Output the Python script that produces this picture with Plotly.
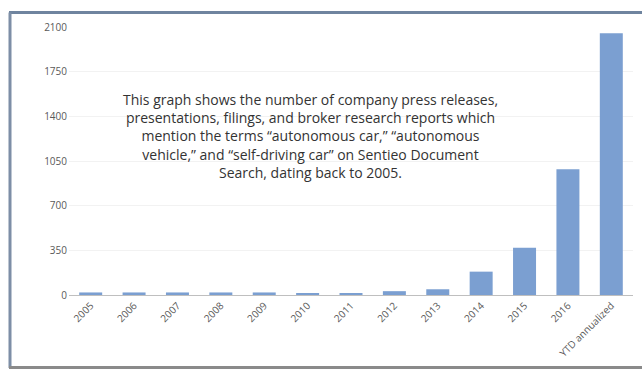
import plotly.graph_objects as go

categories = ["2005", "2006", "2007", "2008", "2009", "2010", "2011", "2012",
              "2013", "2014", "2015", "2016", "YTD annualized"]
mentions = [20, 20, 20, 20, 20, 10, 15, 30, 45, 183, 371, 985, 2051]
y_ticks = [0, 350, 700, 1050, 1400, 1750, 2100]

note = ("This graph shows the number of company press releases,<br>"
        "presentations, filings, and broker research reports which<br>"
        "mention the terms \u201cautonomous car,\u201d \u201cautonomous<br>"
        "vehicle,\u201d and \u201cself-driving car\u201d on Sentieo Document<br>"
        "Search, dating back to 2005.")

fig = go.Figure()
fig.add_trace(go.Bar(x=categories, y=mentions, marker=dict(color="#7b9fd1", line=dict(width=0))))

W, H = 642, 369
L, R, T, B = 69, 9, 27, 74
pw, ph = W - L - R, H - T - B

def px(x):
    return (x - L) / pw

def py(y):
    return (H - B - y) / ph

fig.update_layout(
    width=W, height=H,
    margin=dict(l=L, r=R, t=T, b=B),
    paper_bgcolor="white", plot_bgcolor="white",
    bargap=0.47,
    showlegend=False,
    font=dict(family="Open Sans", color="#595959"),
    xaxis=dict(
        tickangle=-45, tickfont=dict(size=10, color="#595959"),
        showline=True, linecolor="#bfbfbf", linewidth=1,
        showgrid=False, ticks="", zeroline=False,
    ),
    yaxis=dict(
        range=[0, 2100], tickvals=y_ticks,
        tickfont=dict(size=10, color="#595959"),
        showgrid=True, gridcolor="#f2f2f2", gridwidth=1,
        zeroline=False, showline=False, ticks="", ticklabelstandoff=1,
    ),
    annotations=[dict(
        text=note, x=px(310), y=py(135.5), xref="paper", yref="paper",
        showarrow=False, align="center", xanchor="center", yanchor="middle",
        font=dict(family="Open Sans", size=14, color="#333333"),
    )],
    shapes=[
        dict(type="line", xref="paper", yref="paper", x0=px(9), x1=px(700),
             y0=py(12.5), y1=py(12.5), line=dict(color="#6f849f", width=3)),
        dict(type="line", xref="paper", yref="paper", x0=px(10), x1=px(10),
             y0=py(12.5), y1=py(368), line=dict(color="#7d8ea6", width=3)),
        dict(type="line", xref="paper", yref="paper", x0=px(9), x1=px(700),
             y0=py(367.5), y1=py(367.5), line=dict(color="#8a8a8a", width=3)),
    ],
)

fig.write_html("out.html")
